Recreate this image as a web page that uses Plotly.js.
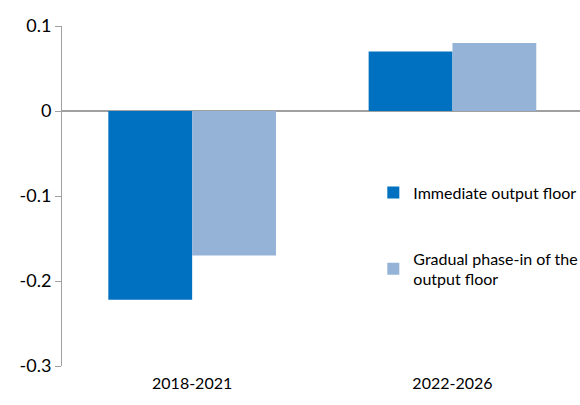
<!DOCTYPE html>
<html>
<head>
<meta charset="utf-8">
<script src="https://cdn.plot.ly/plotly-3.0.1.min.js"></script>
<style>html,body{margin:0;padding:0;background:#fff;}#chart{width:580px;height:405px;}</style>
</head>
<body>
<div id="chart"></div>
<script>
const categories = ["2018-2021", "2022-2026"];
const immediateValues = [-0.222, 0.07];
const gradualValues = [-0.17, 0.08];
const seriesNames = ["Immediate output floor", "Gradual phase-in of the<br>output floor"];
const yTickValues = [-0.3, -0.2, -0.1, 0, 0.1];
const yTickLabels = ["-0.3", "-0.2", "-0.1", "0", "0.1"];

const fam = "Lato, 'Open Sans', sans-serif";

const traces = [
  {type: "bar", x: categories, y: immediateValues, name: seriesNames[0],
   marker: {color: "#0070C0"}, legendgroup: "a", hoverinfo: "skip"},
  {type: "bar", x: categories, y: gradualValues, name: seriesNames[1],
   marker: {color: "#95B3D7"}, legendgroup: "b", hoverinfo: "skip"}
];

const layout = {
  width: 580, height: 405,
  margin: {l: 62, r: 0, t: 26, b: 39, autoexpand: false},
  paper_bgcolor: "#fff", plot_bgcolor: "#fff",
  font: {family: fam, size: 16, color: "#000"},
  barmode: "group", bargap: 0.356, bargroupgap: 0,
  showlegend: true,
  legend: {x: 0.601, xanchor: "left", y: 0.382, yanchor: "middle",
           traceorder: "grouped", tracegroupgap: 42, itemwidth: 30,
           font: {family: fam, size: 16, color: "#000"},
           bgcolor: "rgba(0,0,0,0)"},
  xaxis: {type: "category", range: [-0.5, 1.49], showgrid: false, zeroline: false,
          showline: false, ticks: "", ticklabelstandoff: 6,
          tickfont: {family: fam, size: 16, color: "#000"}, fixedrange: true},
  yaxis: {range: [-0.3, 0.1], tickvals: yTickValues, ticktext: yTickLabels,
          showgrid: false, zeroline: true, zerolinecolor: "#a0a0a0", zerolinewidth: 1.5,
          showline: true, linecolor: "#a0a0a0", linewidth: 1,
          ticks: "outside", ticklen: 6, tickcolor: "#a0a0a0",
          tickfont: {family: fam, size: 18, color: "#000"}, fixedrange: true}
};

Plotly.newPlot("chart", traces, layout, {staticPlot: true, displayModeBar: false});
</script>
</body>
</html>
